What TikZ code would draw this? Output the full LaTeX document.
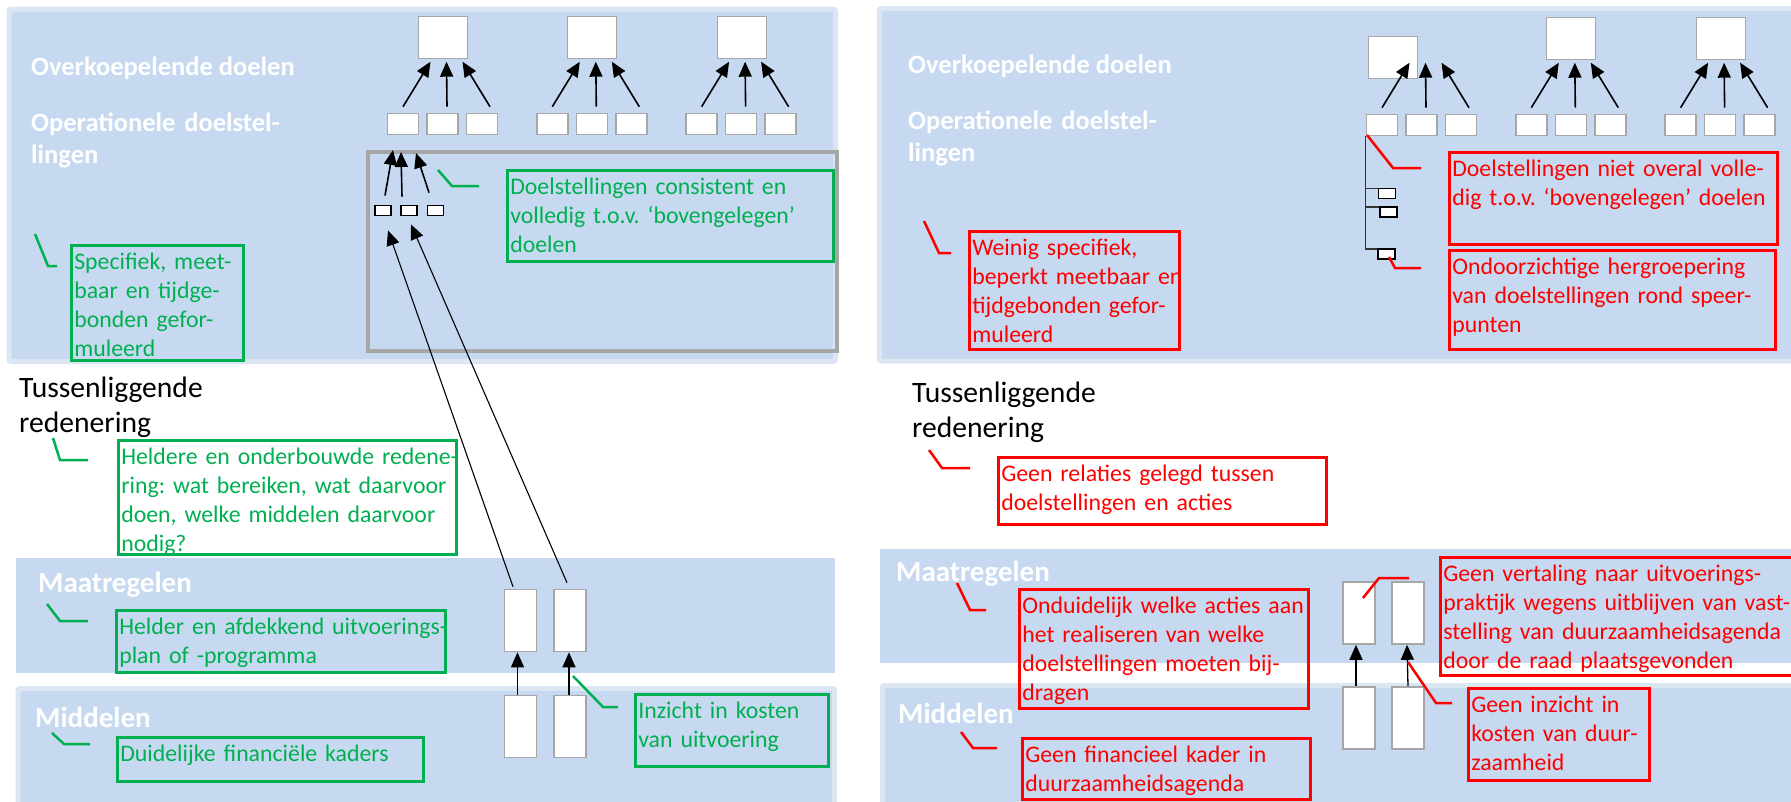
\documentclass[tikz,border=0pt]{standalone}
\usepackage{fontspec}
\setmainfont{Carlito}
\usetikzlibrary{arrows.meta}

\definecolor{bandblue}{RGB}{198,217,240}
\definecolor{bandrim}{RGB}{220,230,242}
\definecolor{boxgray}{RGB}{166,166,166}
\definecolor{okgreen}{RGB}{0,176,80}
\definecolor{errred}{RGB}{255,0,0}

\newcommand{\notefont}{\fontsize{23.8pt}{29pt}\selectfont\frenchspacing}
\newcommand{\headfont}{\fontsize{26.5pt}{32.3pt}\selectfont\bfseries}
\newcommand{\layerfont}{\fontsize{29pt}{35pt}\selectfont\bfseries}
\newcommand{\tusfont}{\fontsize{29.6pt}{35pt}\selectfont}

\tikzset{band/.style={fill=bandblue}}
\tikzset{rimband/.style={fill=bandblue,draw=bandrim,line width=5pt,rounded corners=2pt}}
\tikzset{goal/.style={draw=boxgray,fill=white,line width=1.6pt,minimum width=49pt,minimum height=42pt,inner sep=0pt}}
\tikzset{sub/.style={draw=boxgray,fill=white,line width=1.6pt,minimum width=31pt,minimum height=21pt,inner sep=0pt}}
\tikzset{act/.style={draw=boxgray,fill=white,line width=1.6pt,minimum width=32pt,minimum height=62pt,inner sep=0pt}}
\tikzset{tinybox/.style={draw=black,fill=white,line width=1.8pt,minimum width=16pt,minimum height=10pt,inner sep=0pt}}
\tikzset{groupframe/.style={draw=boxgray,line width=4pt,inner sep=0pt,anchor=north west}}
\tikzset{headlbl/.style={text=white,font=\headfont,anchor=base west,inner sep=0pt,align=left}}
\tikzset{layerlbl/.style={text=white,font=\layerfont,anchor=base west,inner sep=0pt}}
\tikzset{tuslbl/.style={text=black,font=\tusfont,anchor=base west,inner sep=0pt,align=left}}
\tikzset{notebox/.style={draw,line width=2.6pt,anchor=north west,inner xsep=3pt,inner ysep=0pt,align=left,text height=24pt,font=\notefont}}
\tikzset{good/.style={notebox,draw=okgreen,text=okgreen}}
\tikzset{bad/.style={notebox,draw=errred,text=errred}}
\tikzset{gmark/.style={draw=okgreen,line width=2.5pt}}
\tikzset{rmark/.style={draw=errred,line width=2.5pt}}
\tikzset{goalarrow/.style={-{Triangle[length=15pt,width=13pt]},line width=1.6pt}}
\tikzset{longarrow/.style={-{Triangle[length=15pt,width=13pt]},line width=1.1pt}}
\tikzset{hier/.style={draw=black!80,line width=1.3pt}}

\begin{document}
\begin{tikzpicture}[x=1pt,y=-1pt]
      \useasboundingbox (0,0) rectangle (1791,801);

      % bands
      \path[rimband] (9,9) rectangle (835.5,361.5);
      \path[band] (16,558) rectangle (835,673);
      \path[rimband] (18,688.5) rectangle (834.5,806);
      \path[rimband] (879.5,8.5) rectangle (1800,361);
      \path[band] (880,549) rectangle (1800,663);
      \path[rimband] (882.5,685.5) rectangle (1800,806);

      % left: goals and objectives
      \node[goal] (lgoal1) at (443,37.5) {};
      \node[goal] (lgoal2) at (592,37.5) {};
      \node[goal] (lgoal3) at (742,37.5) {};
      \foreach \g/\x in {1/442.5,2/591.8,3/741.1}{
        \node[sub] (lsub\g a) at (\x-39.5,124) {};
        \node[sub] (lsub\g b) at (\x,124) {};
        \node[sub] (lsub\g c) at (\x+39.5,124) {};
        \draw[goalarrow] ([yshift=6pt]lsub\g a.north) -- ([xshift=-12pt,yshift=51pt]lsub\g b.north);
        \draw[goalarrow] ([xshift=4.5pt,yshift=6pt]lsub\g b.north) -- ([xshift=4pt,yshift=51pt]lsub\g b.north);
        \draw[goalarrow] ([xshift=8pt,yshift=6pt]lsub\g c.north) -- ([xshift=20pt,yshift=51pt]lsub\g b.north);
      }

      \node[groupframe,minimum width=469pt,minimum height=199pt] (lframe) at (366,150) {};
      \node[tinybox] (ltiny1) at (383,210.5) {};
      \node[tinybox] (ltiny2) at (409,210.5) {};
      \node[tinybox] (ltiny3) at (435.5,210.5) {};
      \draw[goalarrow] ([xshift=2pt,yshift=9pt]ltiny1.north) -- ([xshift=27pt]lframe.north west);
      \draw[goalarrow] ([xshift=-7pt,yshift=8pt]ltiny2.north) -- ([xshift=35pt,yshift=-2pt]lframe.north west);
      \draw[goalarrow] ([xshift=-6.5pt,yshift=12pt]ltiny3.north) -- ([xshift=50pt,yshift=-3pt]lframe.north west);

      % left: measures and means
      \node[act] (lmaat1) at (520.5,620.5) {};
      \node[act] (lmaat2) at (570,620.5) {};
      \node[act] (lmid1) at (520.5,726.5) {};
      \node[act] (lmid2) at (570,726.5) {};
      \draw[longarrow] ([xshift=-7.5pt,yshift=2pt]lmaat1.north) -- ([xshift=5pt,yshift=-14pt]ltiny1.south);
      \draw[longarrow] ([xshift=-3pt,yshift=6pt]lmaat2.north) -- ([xshift=2pt,yshift=-8pt]ltiny2.south);
      \draw[goalarrow,line width=1.3pt] ([xshift=-3pt]lmid1.north) -- ([xshift=-3pt]lmaat1.south);
      \draw[goalarrow,line width=1.3pt] ([xshift=-1pt]lmid2.north) -- ([xshift=-1pt]lmaat2.south);

      \node[headlbl] (lover) at (31,75) {Overkoepelende doelen};
      \node[headlbl,text width=300pt] (loper) at (31,131) {Operationele doelstel-\\lingen};
      \node[tuslbl,text width=250pt] (ltus) at (19,397) {Tussenliggende\\redenering};
      \node[layerlbl] (lmaatl) at (38,592) {Maatregelen};
      \node[layerlbl] (lmidl) at (35,727) {Middelen};

      \node[good,text width=166pt,text depth=91pt] (lspec) at (70,244) {\mbox{Specifiek, meet-}\\\mbox{baar en tijdge-}\\\mbox{bonden gefor-}\\muleerd};
      \node[good,text width=320pt,text depth=67pt] (lcons) at (506,169) {\mbox{Doelstellingen consistent en}\\\mbox{volledig t.o.v. ‘bovengelegen’}\\doelen};
      \node[good,text width=332pt,text depth=90pt] (lreas) at (117,439) {\mbox{Heldere en onderbouwde redene-}\\\mbox{ring: wat bereiken, wat daarvoor}\\\mbox{doen, welke middelen daarvoor}\\nodig?};
      \node[good,text width=323pt,text depth=38pt] (lplan) at (115,609) {\mbox{Helder en afdekkend uitvoerings-}\\\mbox{plan of -programma}};
      \node[good,text width=300pt,text depth=20pt] (lfin) at (116,736) {\mbox{Duidelijke financiële kaders}};
      \node[good,text width=187pt,text depth=48pt] (lcost) at (634,693) {\mbox{Inzicht in kosten}\\\mbox{van uitvoering}};

      \draw[gmark] (35,234) -- (48,266) -- (57,266);
      \draw[gmark] (438,170) -- (452,186) -- (479,186);
      \draw[gmark] (53,438) -- (60,460) -- (88,460);
      \draw[gmark] (47,604) -- (60,621) -- (88,621);
      \draw[gmark] (52,733) -- (64,744) -- (90,744);
      \draw[gmark] (573,676) -- (603,707) -- (618,707);

      % right: goals and objectives
      \node[goal] (rgoal1) at (1393,57.5) {};
      \node[goal] (rgoal2) at (1571,38.5) {};
      \node[goal] (rgoal3) at (1721,38.5) {};
      \foreach \g/\x in {1/1421.5,2/1570.8,3/1720.1}{
        \node[sub] (rsub\g a) at (\x-39.5,125) {};
        \node[sub] (rsub\g b) at (\x,125) {};
        \node[sub] (rsub\g c) at (\x+39.5,125) {};
        \draw[goalarrow] ([yshift=6pt]rsub\g a.north) -- ([xshift=-12pt,yshift=51pt]rsub\g b.north);
        \draw[goalarrow] ([xshift=4.5pt,yshift=6pt]rsub\g b.north) -- ([xshift=4pt,yshift=51pt]rsub\g b.north);
        \draw[goalarrow] ([xshift=8pt,yshift=6pt]rsub\g c.north) -- ([xshift=20pt,yshift=51pt]rsub\g b.north);
      }

      \node[tinybox,minimum width=17pt] (rtiny1) at (1387,193.5) {};
      \node[tinybox,minimum width=17pt] (rtiny2) at (1388.5,212) {};
      \node[tinybox,minimum width=17pt] (rtiny3) at (1386.5,254) {};
      \draw[hier] (rsub1a.south west) |- ([yshift=-1pt]rtiny3.north west);
      \draw[hier] ([yshift=-1pt]rsub1a.south west |- rtiny1.north west) -- ([yshift=-1pt]rtiny1.north west);
      \draw[hier] ([yshift=-1pt]rsub1a.south west |- rtiny2.north west) -- ([yshift=-1pt]rtiny2.north west);

      % right: measures and means
      \node[act] (rmaat1) at (1359,613) {};
      \node[act] (rmaat2) at (1408,613) {};
      \node[act] (rmid1) at (1359,718) {};
      \node[act] (rmid2) at (1408,718) {};
      \draw[goalarrow,line width=1.3pt] ([xshift=-3pt]rmid1.north) -- ([xshift=-3pt]rmaat1.south);
      \draw[goalarrow,line width=1.3pt] (rmid2.north) -- ([xshift=-1pt]rmaat2.south);

      \node[headlbl] (rover) at (908,73) {Overkoepelende doelen};
      \node[headlbl,text width=300pt] (roper) at (908,129.5) {Operationele doelstel-\\lingen};
      \node[tuslbl,text width=250pt] (rtus) at (912,402) {Tussenliggende\\redenering};
      \node[layerlbl] (rmaatl) at (896,581) {Maatregelen};
      \node[layerlbl] (rmidl) at (898,723) {Middelen};

      \node[bad,text width=204pt,text depth=94pt] (rspec) at (968,230) {\mbox{Weinig specifiek,}\\\mbox{beperkt meetbaar en}\\\mbox{tijdgebonden gefor-}\\muleerd};
      \node[bad,text width=322pt,text depth=68pt] (rcons) at (1448,151) {\mbox{Doelstellingen niet overal volle-}\\\mbox{dig t.o.v. ‘bovengelegen’ doelen}};
      \node[bad,text width=320pt,text depth=75pt] (rgroup) at (1448,249) {\mbox{Ondoorzichtige hergroepering}\\\mbox{van doelstellingen rond speer-}\\punten};
      \node[bad,text width=322pt,text depth=43pt] (rrel) at (997,456) {\mbox{Geen relaties gelegd tussen}\\\mbox{doelstellingen en acties}};
      \node[bad,text width=283pt,text depth=95pt] (racts) at (1018,588) {\mbox{Onduidelijk welke acties aan}\\\mbox{het realiseren van welke}\\\mbox{doelstellingen moeten bij-}\\dragen};
      \node[bad,text width=282pt,text depth=37pt] (rfin) at (1021,737) {\mbox{Geen financieel kader in}\\duurzaamheidsagenda};
      \node[bad,text width=356pt,text depth=94pt] (rtrans) at (1439,556) {\mbox{Geen vertaling naar uitvoerings-}\\\mbox{praktijk wegens uitblijven van vast-}\\\mbox{stelling van duurzaamheidsagenda}\\\mbox{door de raad plaatsgevonden}};
      \node[bad,text width=175pt,text depth=68pt] (rcost) at (1467,687) {\mbox{Geen inzicht in}\\\mbox{kosten van duur-}\\zaamheid};

      \draw[rmark] (924,221) -- (939,253) -- (951,253);
      \draw[rmark] (1367,135) -- (1393,168) -- (1421,168);
      \draw[rmark] (1389,257) -- (1395,268) -- (1421,268);
      \draw[rmark] (929,450) -- (942,468) -- (970,468);
      \draw[rmark] (957,583) -- (970,610) -- (986,610);
      \draw[rmark] (961,732) -- (973,748) -- (997,748);
      \draw[rmark] (1363,598) -- (1379,578) -- (1409,578);
      \draw[rmark] (1408,662) -- (1436,703) -- (1452,703);
\end{tikzpicture}
\end{document}
